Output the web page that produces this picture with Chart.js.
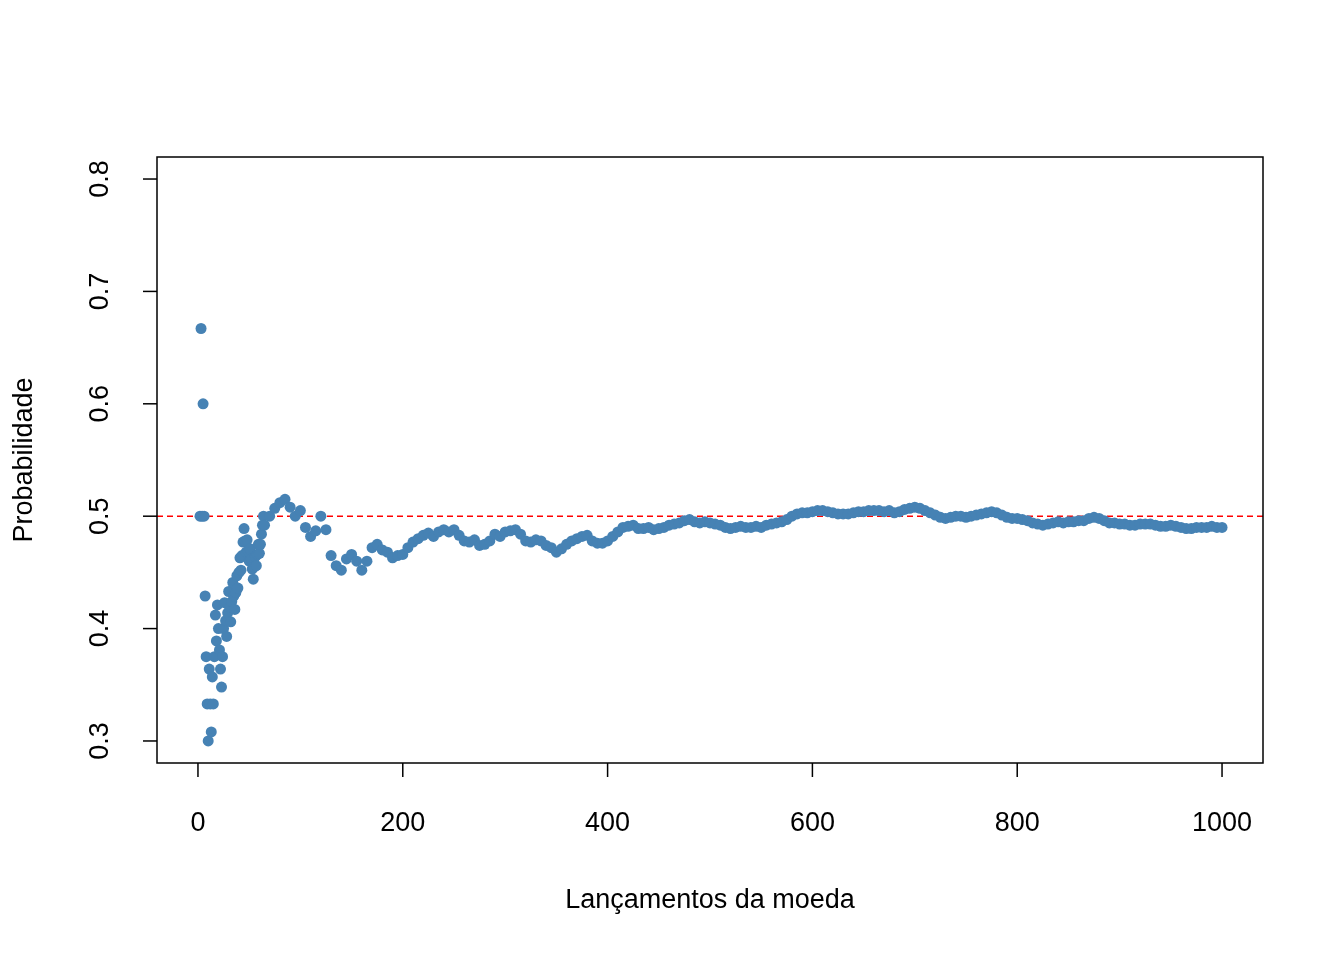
<!DOCTYPE html>
<html>
<head>
<meta charset="utf-8">
<script src="https://cdn.jsdelivr.net/npm/chart.js@4"></script>
<style>
  html, body { margin: 0; padding: 0; background: #fff; }
  #wrap { width: 1344px; height: 960px; }
</style>
</head>
<body>
<div id="wrap"><canvas id="chart" width="1344" height="960"></canvas></div>
<script>
// número de lançamentos e proporção acumulada
const lancamentos = [
  2,3,4,5,6,7,8,9,10,11,12,13,14,15,16,17,18,19,20,21,22,23,24,
  25,26,27,28,29,30,31,32,33,34,35,36,37,38,39,40,41,42,43,44,45,46,47,48,49,50,
  51,52,53,54,55,56,57,58,59,60,61,62,63,64,65,
  70,75,80,85,90,95,100,105,110,115,120,125,130,135,140,145,150,155,160,165,170,175,180,185,190,195,
  200,205,210,215,220,225,230,235,240,245,250,255,260,265,270,275,280,285,290,295,
  300,305,310,315,320,325,330,335,340,345,350,355,360,365,370,375,380,385,390,395,
  400,405,410,415,420,425,430,435,440,445,450,455,460,465,470,475,480,485,490,495,
  500,505,510,515,520,525,530,535,540,545,550,555,560,565,570,575,580,585,590,595,
  600,605,610,615,620,625,630,635,640,645,650,655,660,665,670,675,680,685,690,695,
  700,705,710,715,720,725,730,735,740,745,750,755,760,765,770,775,780,785,790,795,
  800,805,810,815,820,825,830,835,840,845,850,855,860,865,870,875,880,885,890,895,
  900,905,910,915,920,925,930,935,940,945,950,955,960,965,970,975,980,985,990,995,1000
];
const proporcao = [
  0.5,0.667,0.5,0.6,0.5,0.429,0.375,0.333,0.3,0.364,0.333,0.308,0.357,0.333,0.375,0.412,0.389,0.421,0.4,0.381,0.364,0.348,0.375,
  0.4,0.423,0.407,0.393,0.414,0.433,0.419,0.406,0.424,0.441,0.429,0.417,0.432,0.447,0.436,0.45,0.463,0.452,0.465,0.477,0.489,0.478,0.468,0.479,0.469,0.46,
  0.471,0.462,0.453,0.444,0.455,0.464,0.456,0.466,0.475,0.467,0.475,0.484,0.492,0.5,0.492,
  0.5,0.507,0.512,0.515,0.508,0.5,0.505,0.49,0.482,0.487,0.5,0.488,0.465,0.456,0.452,0.462,0.466,0.46,0.452,0.46,0.472,0.475,0.47,0.468,0.463,0.465,
  0.466,0.472,0.477,0.48,0.483,0.485,0.482,0.486,0.488,0.486,0.488,0.483,0.478,0.477,0.479,0.474,0.475,0.478,0.484,0.482,
  0.486,0.487,0.488,0.484,0.478,0.477,0.479,0.478,0.474,0.472,0.468,0.471,0.475,0.478,0.48,0.482,0.483,0.478,0.476,0.476,
  0.478,0.482,0.486,0.49,0.491,0.492,0.489,0.489,0.49,0.488,0.489,0.49,0.492,0.493,0.494,0.496,0.497,0.495,0.494,0.495,
  0.494,0.493,0.492,0.49,0.489,0.49,0.491,0.49,0.49,0.491,0.49,0.492,0.493,0.494,0.495,0.497,0.5,0.502,0.503,0.503,
  0.504,0.505,0.505,0.504,0.503,0.502,0.502,0.502,0.503,0.504,0.504,0.505,0.505,0.505,0.504,0.505,0.503,0.504,0.506,0.507,
  0.508,0.507,0.505,0.503,0.501,0.499,0.498,0.499,0.5,0.5,0.499,0.5,0.501,0.502,0.503,0.504,0.503,0.501,0.499,0.498,
  0.498,0.497,0.496,0.494,0.493,0.492,0.493,0.494,0.495,0.494,0.495,0.495,0.496,0.496,0.498,0.499,0.498,0.496,0.494,0.494,
  0.493,0.493,0.492,0.492,0.493,0.493,0.493,0.492,0.491,0.491,0.492,0.491,0.49,0.489,0.489,0.49,0.49,0.49,0.491,0.49,0.49
];
const xTicks = [0, 200, 400, 600, 800, 1000];
const yTicks = [0.3, 0.4, 0.5, 0.6, 0.7, 0.8];
const linhaRef = 0.5;

const FONT = '27px "Liberation Sans", Arial, sans-serif';

// eixos no estilo R, desenhados a partir das escalas do Chart.js
const eixosR = {
  id: 'eixosR',
  beforeDatasetsDraw(chart) {
    const { ctx, chartArea: a, scales: { x, y } } = chart;
    ctx.save();
    // linha de referência tracejada
    ctx.strokeStyle = '#ff0000';
    ctx.lineWidth = 1.5;
    ctx.setLineDash([6, 4]);
    const yr = y.getPixelForValue(linhaRef);
    ctx.beginPath(); ctx.moveTo(a.left, yr); ctx.lineTo(a.right, yr); ctx.stroke();
    ctx.restore();
  },
  afterDraw(chart) {
    const { ctx, chartArea: a, scales: { x, y } } = chart;
    ctx.save();
    ctx.strokeStyle = '#000';
    ctx.lineWidth = 1.5;
    ctx.strokeRect(a.left, a.top, a.right - a.left, a.bottom - a.top);
    ctx.fillStyle = '#000';
    ctx.font = FONT;

    // eixo x
    ctx.textAlign = 'center'; ctx.textBaseline = 'middle';
    xTicks.forEach(v => {
      const px = x.getPixelForValue(v);
      ctx.beginPath(); ctx.moveTo(px, a.bottom); ctx.lineTo(px, a.bottom + 14); ctx.stroke();
      ctx.fillText(String(v), px, 824);
    });

    // eixo y (rótulos rotacionados)
    yTicks.forEach(v => {
      const py = y.getPixelForValue(v);
      ctx.beginPath(); ctx.moveTo(a.left, py); ctx.lineTo(a.left - 14, py); ctx.stroke();
      ctx.save();
      ctx.translate(101, py); ctx.rotate(-Math.PI / 2);
      ctx.fillText(v.toFixed(1), 0, 0);
      ctx.restore();
    });

    // títulos
    ctx.fillText('Lançamentos da moeda', (a.left + a.right) / 2, 901);
    ctx.save();
    ctx.translate(25, (a.top + a.bottom) / 2); ctx.rotate(-Math.PI / 2);
    ctx.fillText('Probabilidade', 0, 0);
    ctx.restore();
    ctx.restore();
  }
};

new Chart(document.getElementById('chart'), {
  type: 'scatter',
  data: {
    datasets: [{
      data: lancamentos.map((n, i) => ({ x: n, y: proporcao[i] })),
      backgroundColor: '#4682B4',
      borderColor: '#4682B4',
      pointRadius: 5.5,
      pointHoverRadius: 5.5,
      borderWidth: 0
    }]
  },
  options: {
    responsive: false,
    animation: false,
    clip: true,
    layout: { padding: { left: 157, right: 81, top: 157, bottom: 197 } },
    scales: {
      x: { type: 'linear', min: -40, max: 1040, display: false },
      y: { type: 'linear', min: 0.2804, max: 0.8196, display: false }
    },
    plugins: { legend: { display: false }, tooltip: { enabled: false } }
  },
  plugins: [eixosR]
});
</script>
</body>
</html>
